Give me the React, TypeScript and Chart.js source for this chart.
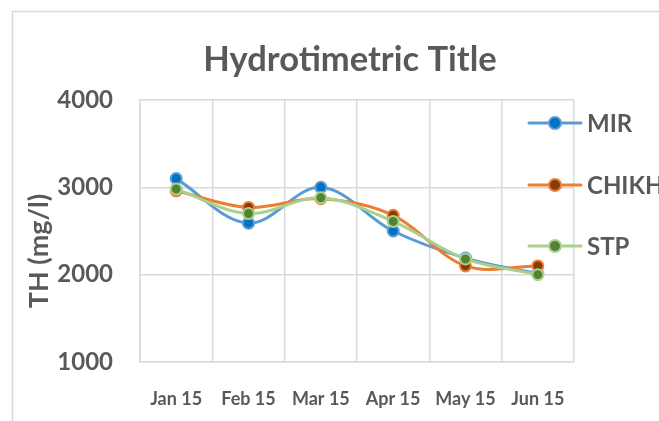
import React, { useEffect, useRef } from "react";
import { Chart, registerables } from "chart.js";

Chart.register(...registerables);

const categories = ["Jan 15", "Feb 15", "Mar 15", "Apr 15", "May 15", "Jun 15"];
const seriesNames = ["MIR", "CHIKH", "STP"];
const mirValues = [3100, 2590, 3000, 2500, 2190, 2010];
const chikhValues = [2960, 2770, 2870, 2680, 2100, 2100];
const stpValues = [2980, 2700, 2880, 2610, 2180, 2000];
const yMin = 1000;
const yMax = 4000;
const yStep = 1000;
const chartTitle = "Hydrotimetric Title";
const yAxisTitle = "TH (mg/l)";

const lineColors = ["#5B9BD5", "#ED7D31", "#A9D18E"];
const markerColors = ["#0070C0", "#843C0C", "#548235"];
const TEXT = "#595959";
const GRID = "#d9d9d9";
const FONT = "Lato";

const decorPlugin = {
  id: "decor",
  beforeDraw(chart: any) {
    const ctx = chart.ctx;
    ctx.save();
    ctx.fillStyle = "#ffffff";
    ctx.fillRect(0, 0, chart.width, chart.height);
    ctx.strokeStyle = GRID;
    ctx.lineWidth = 1.5;
    ctx.beginPath();
    ctx.moveTo(12.5, chart.height);
    ctx.lineTo(12.5, 11.5);
    ctx.lineTo(chart.width, 11.5);
    ctx.stroke();
    ctx.restore();
  },
  afterDraw(chart: any) {
    const ctx = chart.ctx;
    ctx.save();
    ctx.font = `bold 34.5px ${FONT}`;
    ctx.fillStyle = TEXT;
    ctx.textAlign = "center";
    ctx.textBaseline = "middle";
    ctx.fillText(chartTitle, 350, 60);
    ctx.restore();

    ctx.save();
    ctx.translate(39, 251);
    ctx.rotate(-Math.PI / 2);
    ctx.font = `bold 27px ${FONT}`;
    ctx.fillStyle = TEXT;
    ctx.textAlign = "center";
    ctx.textBaseline = "middle";
    ctx.fillText(yAxisTitle, 0, 0);
    ctx.restore();

    const legendY = [123, 185, 246];
    chart.data.datasets.forEach((ds: any, i: number) => {
      const y = legendY[i];
      ctx.save();
      ctx.strokeStyle = ds.borderColor;
      ctx.lineWidth = 3;
      ctx.lineCap = "round";
      ctx.beginPath();
      ctx.moveTo(529, y);
      ctx.lineTo(581, y);
      ctx.stroke();
      ctx.beginPath();
      ctx.arc(555, y, 6, 0, Math.PI * 2);
      ctx.fillStyle = ds.pointBackgroundColor;
      ctx.fill();
      ctx.lineWidth = 2;
      ctx.strokeStyle = ds.pointBorderColor;
      ctx.stroke();
      ctx.font = `bold 24px ${FONT}`;
      ctx.fillStyle = TEXT;
      ctx.textAlign = "left";
      ctx.textBaseline = "middle";
      ctx.fillText(ds.label, 587, y + 1);
      ctx.restore();
    });
  },
};

export default function App() {
  const ref = useRef<HTMLCanvasElement>(null);
  useEffect(() => {
    document.body.style.margin = "0";
    const values = [mirValues, chikhValues, stpValues];
    const chart = new Chart(ref.current as HTMLCanvasElement, {
      type: "line",
      data: {
        labels: categories,
        datasets: seriesNames.map((name, i) => ({
          label: name,
          data: values[i],
          borderColor: lineColors[i],
          backgroundColor: lineColors[i],
          borderWidth: 3,
          tension: 0.35,
          pointRadius: 5.5,
          pointBorderWidth: 2,
          pointBackgroundColor: markerColors[i],
          pointBorderColor: lineColors[i],
          order: 3 - i,
        })),
      },
      options: {
        animation: false,
        responsive: false,
        layout: { padding: { left: 0, right: 85, top: 100, bottom: 0 } },
        plugins: {
          legend: { display: false },
          tooltip: { enabled: false },
          title: { display: false },
        },
        scales: {
          x: {
            offset: true,
            grid: { offset: true, color: GRID, lineWidth: 1.5, drawTicks: false },
            border: { color: GRID, width: 1.5 },
            ticks: {
              color: TEXT,
              padding: 26,
              font: { family: FONT, size: 18, weight: "bold" },
              maxRotation: 0,
            },
            afterFit(scale: any) {
              scale.height = 59;
            },
          },
          y: {
            min: yMin,
            max: yMax,
            grid: { color: GRID, lineWidth: 1.5, drawTicks: false },
            border: { color: GRID, width: 1.5 },
            ticks: {
              stepSize: yStep,
              color: TEXT,
              padding: 27,
              font: { family: FONT, size: 24, weight: "bold" },
              callback: (value: any) => String(value),
            },
            afterFit(scale: any) {
              scale.width = 140;
            },
          },
        },
      },
      plugins: [decorPlugin],
    });
    return () => chart.destroy();
  }, []);
  return (
    <canvas
      ref={ref}
      width={659}
      height={421}
      style={{ display: "block", position: "fixed", left: 0, top: 0 }}
    />
  );
}
